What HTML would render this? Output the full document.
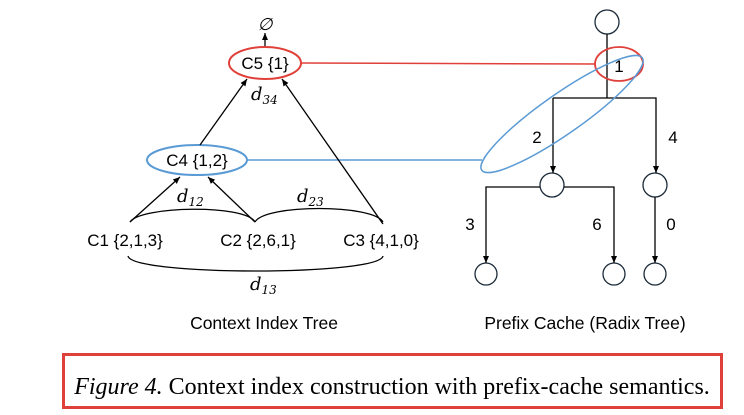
<!DOCTYPE html>
<html><head><meta charset="utf-8"><style>
html,body{margin:0;padding:0;background:#fff;}
svg{display:block;}
</style></head><body>
<svg width="744" height="415" viewBox="0 0 744 415" xmlns="http://www.w3.org/2000/svg">
<defs>
<marker id="ah" markerWidth="8" markerHeight="8" refX="7" refY="4" orient="auto" markerUnits="userSpaceOnUse">
<path d="M0,1 L7,4 L0,7 z" fill="#000"/>
</marker>
</defs>
<g font-family="Liberation Sans, sans-serif" fill="#000">
<!-- left tree -->
<text x="265" y="30" text-anchor="middle" font-family="DejaVu Serif, serif" font-style="italic" font-size="17">∅</text>
<line x1="265" y1="47" x2="265" y2="33" stroke="#000" stroke-width="1.3" marker-end="url(#ah)"/>
<line x1="301" y1="63" x2="596" y2="64" stroke="#e0403a" stroke-width="1.5"/>
<line x1="247" y1="160" x2="482" y2="160" stroke="#5b9bd5" stroke-width="1.5"/>
<ellipse cx="265" cy="63" rx="36" ry="16" fill="#fff" stroke="#e0403a" stroke-width="2"/>
<text x="265" y="69" text-anchor="middle" font-size="17">C5 {1}</text>
<ellipse cx="197" cy="160" rx="50" ry="15" fill="#fff" stroke="#5b9bd5" stroke-width="2"/>
<text x="197" y="166" text-anchor="middle" font-size="17">C4 {1,2}</text>
<line x1="200" y1="145" x2="247" y2="79" stroke="#000" stroke-width="1.3" marker-end="url(#ah)"/>
<line x1="383" y1="224" x2="282" y2="79" stroke="#000" stroke-width="1.3" marker-end="url(#ah)"/>
<line x1="130" y1="222" x2="180" y2="177" stroke="#000" stroke-width="1.3" marker-end="url(#ah)"/>
<line x1="255" y1="222" x2="208" y2="177" stroke="#000" stroke-width="1.3" marker-end="url(#ah)"/>
<path d="M130,222 C140,206 245,204 255,222" fill="none" stroke="#000" stroke-width="1.3"/>
<path d="M255,222 C265,204 373,204 383,222" fill="none" stroke="#000" stroke-width="1.3"/>
<path d="M128,256 C132,276 379,276 383,256" fill="none" stroke="#000" stroke-width="1.3"/>
<text x="125" y="246" text-anchor="middle" font-size="17">C1 {2,1,3}</text>
<text x="258" y="246" text-anchor="middle" font-size="17">C2 {2,6,1}</text>
<text x="381" y="246" text-anchor="middle" font-size="17">C3 {4,1,0}</text>
<g font-family="DejaVu Serif, serif" font-style="italic" font-size="18">
<text x="251" y="100">d<tspan font-size="12" dy="4">34</tspan></text>
<text x="177" y="202">d<tspan font-size="12" dy="4">12</tspan></text>
<text x="297" y="202">d<tspan font-size="12" dy="4">23</tspan></text>
<text x="250" y="290">d<tspan font-size="12" dy="4">13</tspan></text>
</g>
<!-- right tree -->
<g stroke="#1a2a38" stroke-width="1.3" fill="#fff">
<circle cx="607" cy="22" r="12"/>
<circle cx="552" cy="185" r="12"/>
<circle cx="655" cy="185" r="12"/>
<circle cx="486" cy="274" r="11"/>
<circle cx="614" cy="274" r="11"/>
<circle cx="655" cy="274" r="11"/>
</g>
<g stroke="#000" stroke-width="1.3" fill="none">
<line x1="607" y1="34" x2="607" y2="98"/>
<polyline points="553,98 656,98 656,173" marker-end="url(#ah)"/>
<line x1="553" y1="98" x2="553" y2="173" marker-end="url(#ah)"/>
<polyline points="540,187 486,187 486,263" marker-end="url(#ah)"/>
<polyline points="564,187 614,187 614,263" marker-end="url(#ah)"/>
<line x1="655" y1="197" x2="655" y2="263" marker-end="url(#ah)"/>
</g>
<ellipse cx="619" cy="64" rx="24" ry="17" fill="none" stroke="#e0403a" stroke-width="1.8"/>
<ellipse cx="562" cy="114" rx="98" ry="20" transform="rotate(-35 562 114)" fill="none" stroke="#5b9bd5" stroke-width="1.5"/>
<g font-size="17" text-anchor="middle">
<text x="619" y="72">1</text>
<text x="537" y="143">2</text>
<text x="673" y="143">4</text>
<text x="470" y="230">3</text>
<text x="597" y="230">6</text>
<text x="671" y="230">0</text>
</g>
<text x="264" y="329" text-anchor="middle" font-size="17.5">Context Index Tree</text>
<text x="585" y="329" text-anchor="middle" font-size="17.5">Prefix Cache (Radix Tree)</text>
</g>
<rect x="63.5" y="354.5" width="658" height="53" fill="none" stroke="#e0403a" stroke-width="3"/>
<text x="392" y="394" text-anchor="middle" font-family="Liberation Serif, serif" font-size="24"><tspan font-style="italic">Figure 4.</tspan> Context index construction with prefix-cache semantics.</text>
</svg>
</body></html>
